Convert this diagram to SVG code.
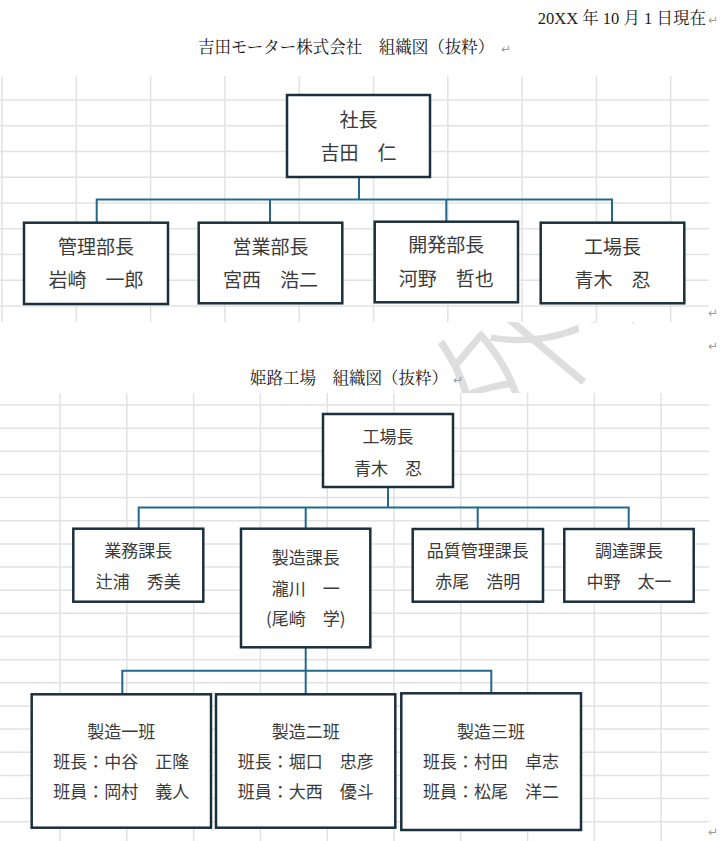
<svg xmlns="http://www.w3.org/2000/svg" width="725" height="841" viewBox="0 0 725 841">
<style>
.title{font-family:"Liberation Serif","Noto Serif CJK JP","Noto Sans CJK JP",serif;font-size:16.5px;fill:#1a1a1a}
.mark{font-family:"DejaVu Sans","Noto Sans CJK JP",sans-serif;font-size:12px;fill:#9a9a9a}
.grid{stroke:#e2e2e2;stroke-width:1.5;fill:none}
.box{fill:#ffffff;stroke:#1b2f3d;stroke-width:2.5}
.t1{font-family:"Noto Sans CJK JP","Noto Sans",sans-serif;font-size:19px;fill:#3a3a3a;text-anchor:middle}
.t2{font-family:"Noto Sans CJK JP","Noto Sans",sans-serif;font-size:17px;fill:#3a3a3a;text-anchor:middle}
.conn{fill:none;stroke:#22698d;stroke-width:2}
.wm{font-family:"Noto Sans CJK JP",sans-serif;font-size:150px;font-weight:300;fill:#dedede}
</style>
<rect width="725" height="841" fill="#ffffff"/>
<!-- watermark (behind the images) -->
<text class="wm" x="505" y="357" text-anchor="middle" dominant-baseline="central" transform="rotate(-50 505 357)">社外秘</text>
<!-- spreadsheet backgrounds -->
<rect x="0" y="76" width="709" height="246" fill="#ffffff"/>
<rect x="0" y="393" width="709" height="448" fill="#ffffff"/>
<g id="grid-top" class="grid">
<path d="M2,76V322M76.3,76V322M150.6,76V322M224.9,76V322M299.2,76V322M373.5,76V322M447.8,76V322M522.1,76V322M596.4,76V322M670.7,76V322"/>
<path d="M0,100H709M0,125.75H709M0,151.5H709M0,177.25H709M0,203H709M0,228.75H709M0,254.5H709M0,280.25H709M0,306H709"/>
</g>
<g id="grid-bottom" class="grid">
<path d="M60,393V841M126.8,393V841M193.6,393V841M260.4,393V841M327.2,393V841M394,393V841M460.8,393V841M527.6,393V841M594.4,393V841M661.2,393V841"/>
<path d="M0,405H709M0,428.15H709M0,451.3H709M0,474.45H709M0,497.6H709M0,520.75H709M0,543.9H709M0,567.05H709M0,590.2H709M0,613.35H709M0,636.5H709M0,659.65H709M0,682.8H709M0,705.95H709M0,729.1H709M0,752.25H709M0,775.4H709M0,798.55H709M0,821.7H709"/>
</g>
<!-- document texts -->
<g id="header">
<text class="title" x="706" y="24" text-anchor="end">20XX 年 10 月 1 日現在</text>
<text class="mark" x="708" y="24">↵</text>
<text class="title" x="198" y="53">吉田モーター株式会社　組織図（抜粋）</text>
<text class="mark" x="501" y="53">↵</text>
<text class="mark" x="708" y="317">↵</text>
<text class="mark" x="708" y="350">↵</text>
<text class="title" x="250" y="384">姫路工場　組織図（抜粋）</text>
<text class="mark" x="453" y="384">↵</text>
<text class="mark" x="708" y="836">↵</text>
</g>
<!-- connectors -->
<g id="connectors" class="conn">
<path d="M359,177V199.5M96.7,222.7V199.5H612V222.7M270,199.5V222.7M446.3,199.5V221.7"/>
<path d="M388,487V507.5M138.7,528.7V507.5H628.7V529M305.7,507.5V528.7M477.7,507.5V529"/>
<path d="M305.7,647.3V670.7M122.3,694.3V670.7H491.3V693.3M305.7,670.7V694.3"/>
</g>
<!-- top chart -->
<g id="president">
<rect class="box" x="287" y="95" width="143" height="82"/>
<text class="t1" x="358.5" y="127">社長</text>
<text class="t1" x="358.5" y="160">吉田　仁</text>
</g>
<g id="admin-head">
<rect class="box" x="24" y="222.7" width="144" height="81.3"/>
<text class="t1" x="96" y="253.7">管理部長</text>
<text class="t1" x="96" y="287.2">岩崎　一郎</text>
</g>
<g id="sales-head">
<rect class="box" x="198.7" y="222.7" width="143.6" height="80.6"/>
<text class="t1" x="270.5" y="253.7">営業部長</text>
<text class="t1" x="270.5" y="287.2">宮西　浩二</text>
</g>
<g id="dev-head">
<rect class="box" x="374.7" y="221.7" width="143.3" height="80.6"/>
<text class="t1" x="446.3" y="252.2">開発部長</text>
<text class="t1" x="446.3" y="285.5">河野　哲也</text>
</g>
<g id="factory-head-top">
<rect class="box" x="540.7" y="222.7" width="143.6" height="80.6"/>
<text class="t1" x="612.5" y="253.7">工場長</text>
<text class="t1" x="612.5" y="287.2">青木　忍</text>
</g>
<!-- bottom chart -->
<g id="factory-head">
<rect class="box" x="323" y="414" width="130" height="73"/>
<text class="t2" x="388" y="443.2">工場長</text>
<text class="t2" x="388" y="474.8">青木　忍</text>
</g>
<g id="business-chief">
<rect class="box" x="73.3" y="528.7" width="130" height="73"/>
<text class="t2" x="138.3" y="556.5">業務課長</text>
<text class="t2" x="138.3" y="587.5">辻浦　秀美</text>
</g>
<g id="production-chief">
<rect class="box" x="241" y="528.7" width="129.3" height="118.6"/>
<text class="t2" x="305.7" y="563.8">製造課長</text>
<text class="t2" x="305.7" y="594.8">瀧川　一</text>
<text class="t2" x="305.7" y="624.8">(尾崎　学)</text>
</g>
<g id="quality-chief">
<rect class="box" x="412.7" y="529" width="130.3" height="72.7"/>
<text class="t2" x="477.8" y="556.5">品質管理課長</text>
<text class="t2" x="477.8" y="587.5">赤尾　浩明</text>
</g>
<g id="procurement-chief">
<rect class="box" x="564.3" y="529" width="129.4" height="72.7"/>
<text class="t2" x="629" y="556.5">調達課長</text>
<text class="t2" x="629" y="587.5">中野　太一</text>
</g>
<g id="team1">
<rect class="box" x="31.7" y="694.3" width="179.3" height="133.4"/>
<text class="t2" x="121.3" y="738.2">製造一班</text>
<text class="t2" x="121.3" y="768.2">班長：中谷　正隆</text>
<text class="t2" x="121.3" y="798.2">班員：岡村　義人</text>
</g>
<g id="team2">
<rect class="box" x="216" y="694.3" width="179.3" height="133.4"/>
<text class="t2" x="305.7" y="738.2">製造二班</text>
<text class="t2" x="305.7" y="768.2">班長：堀口　忠彦</text>
<text class="t2" x="305.7" y="798.2">班員：大西　優斗</text>
</g>
<g id="team3">
<rect class="box" x="401.3" y="693.3" width="179.7" height="136.7"/>
<text class="t2" x="491" y="738.2">製造三班</text>
<text class="t2" x="491" y="768.2">班長：村田　卓志</text>
<text class="t2" x="491" y="798.2">班員：松尾　洋二</text>
</g>
</svg>
